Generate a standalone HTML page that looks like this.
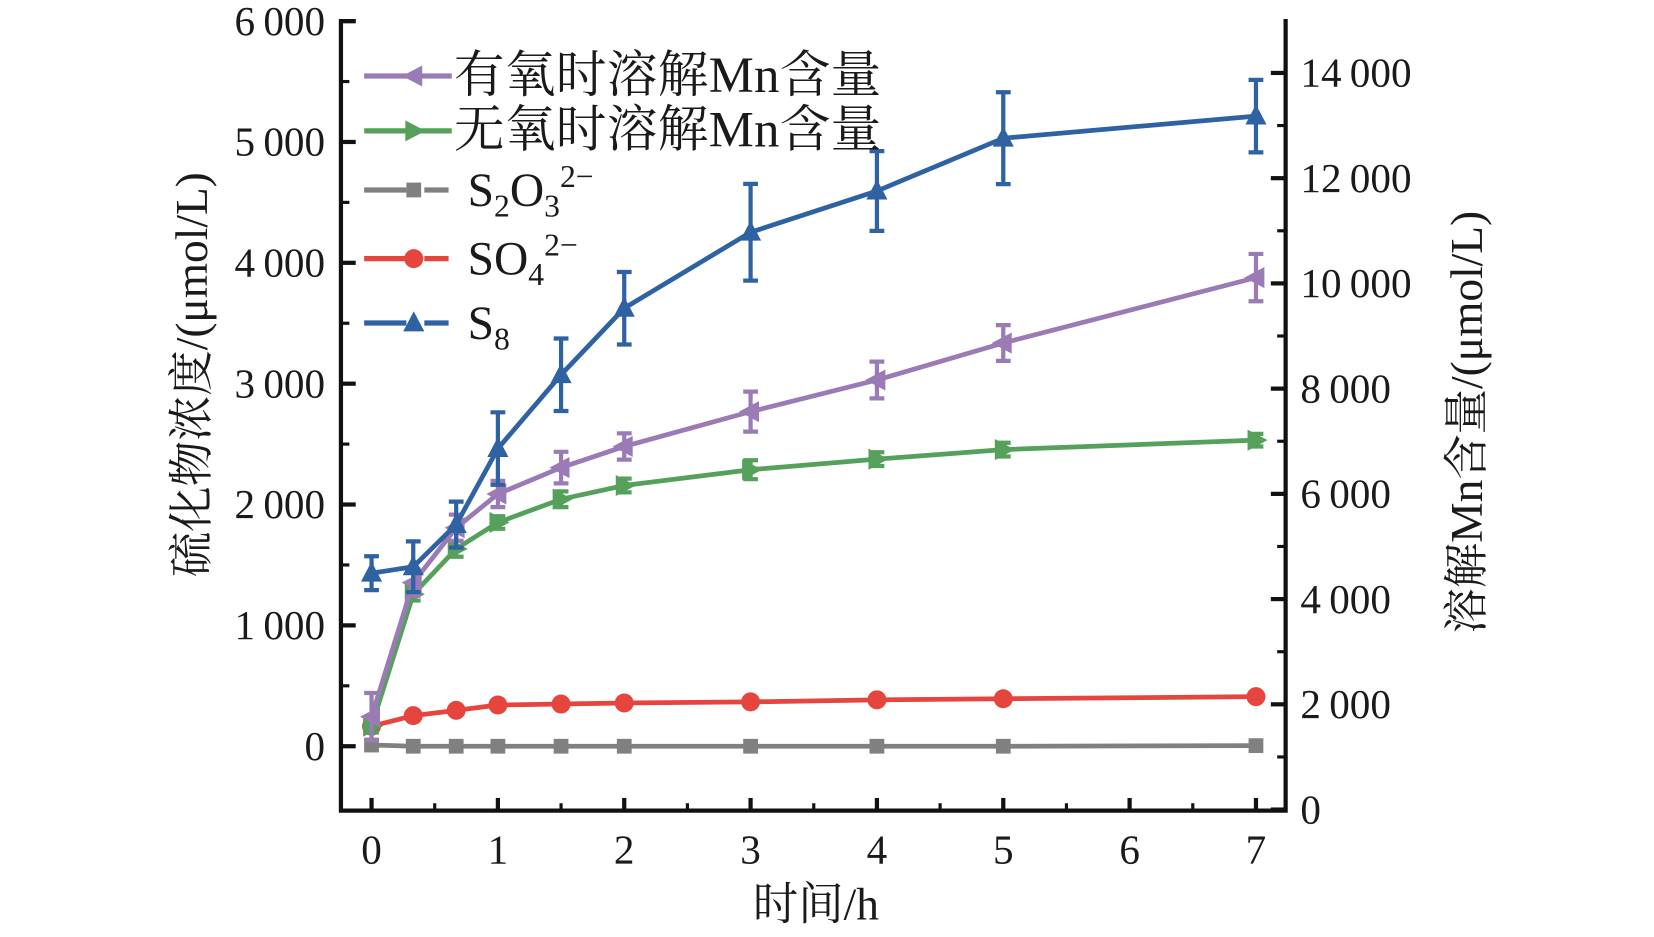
<!DOCTYPE html>
<html><head><meta charset="utf-8"><style>
body{margin:0;background:#fff;}
svg text{font-family:"Liberation Serif","Noto Serif CJK SC",serif;fill:#1a1a1a;}
</style></head><body>
<svg id="chart" width="1654" height="932" viewBox="0 0 1567 883" preserveAspectRatio="none" xmlns="http://www.w3.org/2000/svg">
<g id="axes"></g>
<g id="series"></g>
<g id="legend"></g>
</svg>
<script>
const times=[0,0.33,0.67,1,1.5,2,3,4,5,7];
const mnAerobic=[1765,4313,5356,5998,6499,6901,7563,8164,8867,10110];
const mnAerobicErr=[450,250,250,250,300,250,380,350,340,450];
const mnAnaerobic=[1585,4092,4955,5456,5898,6159,6459,6660,6841,7021];
const mnAnaerobicErr=[120,120,150,120,150,130,180,130,130,120];
const s2o3=[10,0,0,0,0,0,0,0,0,5];
const so4=[166,253,297,341,349,358,367,384,393,410];
const s8=[1432,1485,1834,2463,3074,3624,4253,4594,5031,5214];
const s8Err=[140,210,190,300,300,300,400,330,380,300];
const leftTicks=[0,1000,2000,3000,4000,5000,6000];
const rightTicks=[0,2000,4000,6000,8000,10000,12000,14000];
const xTicks=[0,1,2,3,4,5,6,7];
const fmt=v=>v>=1000?Math.floor(v/1000)+"\u2009"+String(v%1000).padStart(3,"0"):String(v);

const NS="http://www.w3.org/2000/svg";
const X=t=>352+t*119.7;
const YL=v=>707-v*0.1145;
const YR=v=>767-v*0.04985;
function mk(tag,attrs,parent){const e=document.createElementNS(NS,tag);for(const k in attrs)e.setAttribute(k,attrs[k]);parent.appendChild(e);return e;}
const axes=document.getElementById('axes'),ser=document.getElementById('series'),leg=document.getElementById('legend');

let a=mk('path',{d:'M323,18 V768 H1218 V18',fill:'none',stroke:'#111','stroke-width':4},axes);


let tt=mk('line',{x1:323,y1:20,x2:337,y2:20,stroke:'#111','stroke-width':4},axes);


leftTicks.forEach((v,i)=>{
  const y=YL(v);
  let t=mk('line',{x1:323,y1:y,x2:337,y2:y,stroke:'#111','stroke-width':4},axes);
  
  
  if(i<leftTicks.length-1){let m=mk('line',{x1:323,y1:YL(v+500),x2:331,y2:YL(v+500),stroke:'#111','stroke-width':3},axes);
  
  }
  let l=mk('text',{x:308,y:y+13,'text-anchor':'end','font-size':39},axes);l.textContent=fmt(v);
  
  
});
rightTicks.forEach((v,i)=>{
  const y=YR(v);
  let t=mk('line',{x1:1204,y1:y,x2:1218,y2:y,stroke:'#111','stroke-width':4},axes);
  
  
  if(i<rightTicks.length-1){let m=mk('line',{x1:1210,y1:YR(v+1000),x2:1218,y2:YR(v+1000),stroke:'#111','stroke-width':3},axes);
  
  }
  let l=mk('text',{x:1232,y:y+13,'font-size':39},axes);l.textContent=fmt(v);
  
  
});
xTicks.forEach(v=>{
  const x=X(v);
  let t=mk('line',{x1:x,y1:768,x2:x,y2:756,stroke:'#111','stroke-width':4},axes);
  
  
  if(v<7){let m=mk('line',{x1:X(v+0.5),y1:768,x2:X(v+0.5),y2:761,stroke:'#111','stroke-width':3},axes);
  
  }
  let l=mk('text',{x:x,y:818,'text-anchor':'middle','font-size':39},axes);l.textContent=v;
  
  
});
let xt=mk('text',{x:773,y:871,'text-anchor':'middle','font-size':43},axes);xt.textContent='时间/h';


let yt=mk('text',{x:0,y:0,'text-anchor':'middle','font-size':43,transform:'translate(196,355) rotate(-90)'},axes);yt.textContent='硫化物浓度/(μmol/L)';


let yr=mk('text',{x:0,y:0,'text-anchor':'middle','font-size':43,transform:'translate(1404,400) rotate(-90)'},axes);yr.textContent='溶解Mn含量/(μmol/L)';



function marker(type,x,y,color,g){
  let e;
  if(type==='sq')e=mk('rect',{x:x-7,y:y-7,width:14,height:14,fill:color},g);
  else if(type==='circ')e=mk('circle',{cx:x,cy:y,r:9,fill:color},g);
  else if(type==='up')e=mk('polygon',{points:`${x},${y-11} ${x-10},${y+8} ${x+10},${y+8}`,fill:color},g);
  else if(type==='left')e=mk('polygon',{points:`${x-11},${y} ${x+8},${y-10} ${x+8},${y+10}`,fill:color},g);
  else e=mk('polygon',{points:`${x+11},${y} ${x-8},${y-10} ${x-8},${y+10}`,fill:color},g);
  
  
}
function drawSeries(name,vals,errs,scale,color,type){
  const g=mk('g',{},ser);
  
  
  const pts=vals.map((v,i)=>[X(times[i]),scale(v)]);
  const p=mk('polyline',{points:pts.map(p=>p.join(',')).join(' '),fill:'none',stroke:color,'stroke-width':4.5},g);
  
  
  if(errs)vals.forEach((v,i)=>{
    const x=X(times[i]),y1=scale(v+errs[i]),y2=scale(v-errs[i]);
    const e=mk('path',{d:`M${x},${y1}V${y2}M${x-7},${y1}H${x+7}M${x-7},${y2}H${x+7}`,stroke:color,'stroke-width':4,fill:'none'},g);
    
    
  });
  pts.forEach(p=>marker(type,p[0],p[1],color,g));
}
drawSeries('s2o3-series',s2o3,null,YL,'#808080','sq');
drawSeries('so4-series',so4,null,YL,'#e5453c','circ');
drawSeries('mn-anaerobic-series',mnAnaerobic,mnAnaerobicErr,YR,'#55a05a','right');
drawSeries('mn-aerobic-series',mnAerobic,mnAerobicErr,YR,'#9a7bb5','left');
drawSeries('s8-series',s8,s8Err,YL,'#2f62a3','up');

const legItems=[
  ['legend-mn-aerobic','有氧时溶解Mn含量','#9a7bb5','left',72,null],
  ['legend-mn-anaerobic','无氧时溶解Mn含量','#55a05a','right',124,null],
  ['legend-s2o3','S<tspan font-size="30" dy="10">2</tspan><tspan dy="-10">O</tspan><tspan font-size="30" dy="10">3</tspan><tspan font-size="30" dy="-28">2−</tspan>','#808080','sq',180,'dash'],
  ['legend-so4','SO<tspan font-size="30" dy="10">4</tspan><tspan font-size="30" dy="-28">2−</tspan>','#e5453c','circ',245,'dash'],
  ['legend-s8','S<tspan font-size="30" dy="10">8</tspan>','#2f62a3','up',306,'dash']
];
legItems.forEach(it=>{
  const g=mk('g',{},leg);
  
  
  const y=it[4];
  if(it[5]){mk('line',{x1:345,y1:y,x2:385,y2:y,stroke:it[2],'stroke-width':5},g);mk('line',{x1:402,y1:y,x2:425,y2:y,stroke:it[2],'stroke-width':5},g);}
  else mk('line',{x1:345,y1:y,x2:428,y2:y,stroke:it[2],'stroke-width':5},g);
  marker(it[3],392,y,it[2],g);
  const t=mk('text',{x:it[5]?443:430,y:y+15,'font-size':it[5]?45:48},g);
  if(!it[5]){t.setAttribute('textLength','405');}
  t.innerHTML=it[1];
});
</script>
</body></html>
